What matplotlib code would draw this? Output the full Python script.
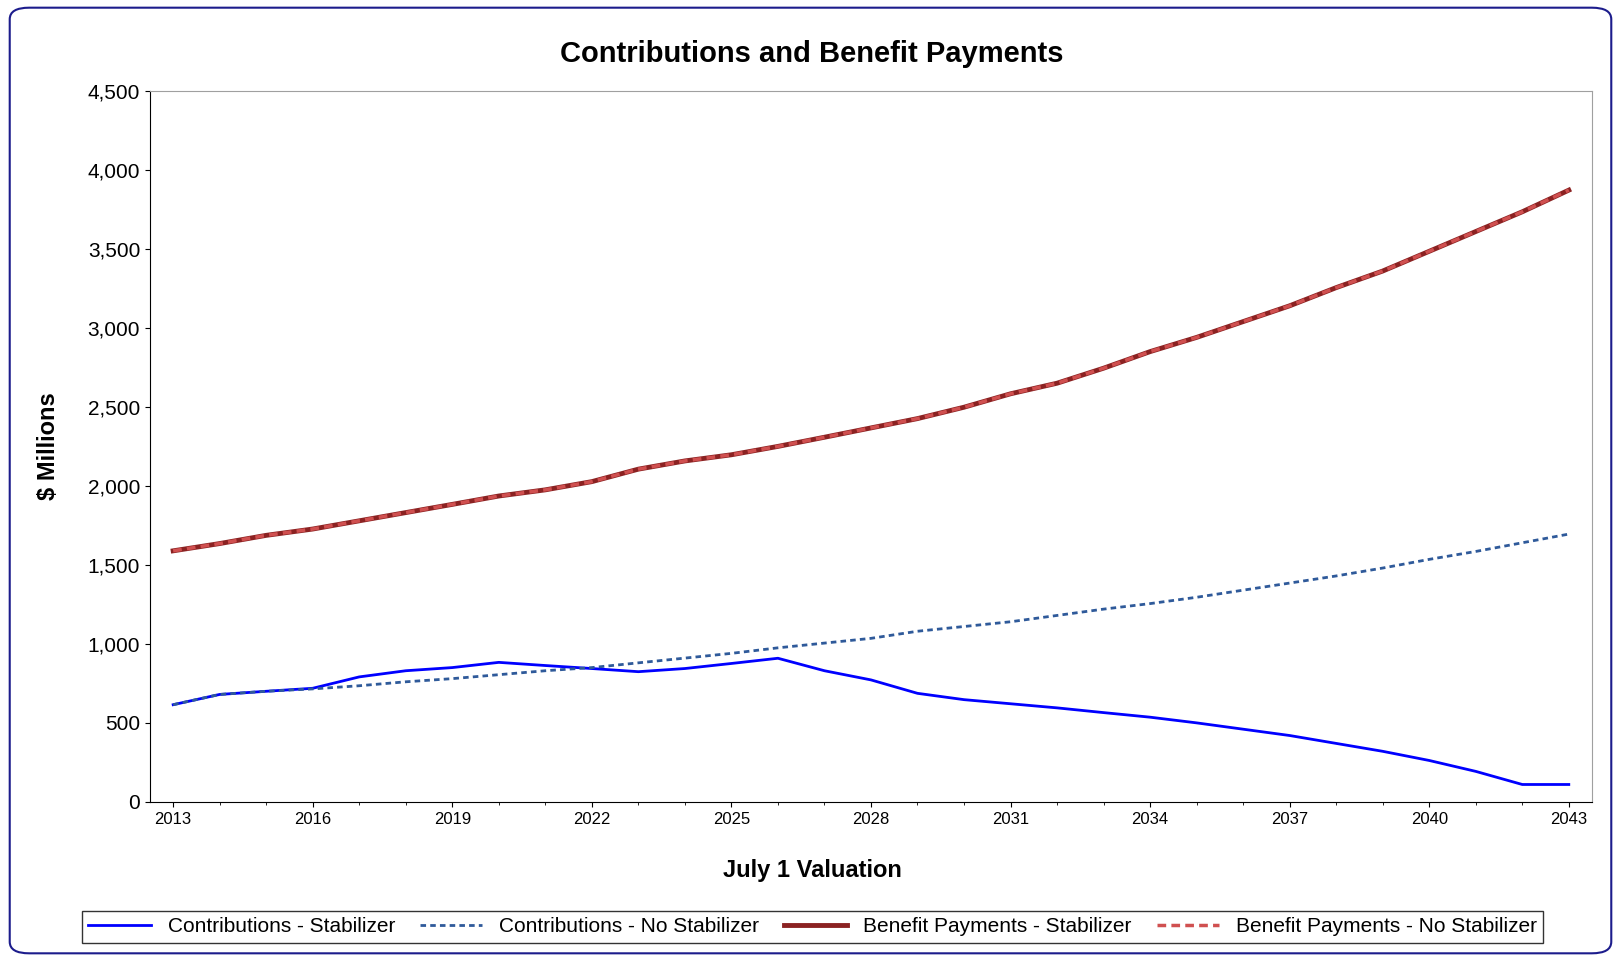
import matplotlib
matplotlib.use("Agg")
import matplotlib.pyplot as plt
from matplotlib.patches import FancyBboxPatch

plt.rcParams['font.family'] = ['Liberation Sans', 'DejaVu Sans']

years = list(range(2013, 2044))
contrib_stab = [615, 680, 700, 719, 791, 830, 850, 883, 863, 844, 824, 844, 876, 909, 830, 772, 687, 647, 621, 595, 565, 536, 500, 460, 420, 370, 320, 262, 193, 110, 110]
contrib_nostab = [615, 680, 700, 715, 735, 760, 780, 805, 830, 850, 880, 910, 940, 975, 1005, 1035, 1080, 1110, 1140, 1180, 1220, 1255, 1295, 1340, 1385, 1430, 1480, 1535, 1585, 1640, 1695]
benefit = [1589, 1635, 1687, 1727, 1779, 1831, 1883, 1936, 1975, 2027, 2106, 2158, 2197, 2250, 2308, 2367, 2426, 2498, 2583, 2650, 2745, 2850, 2940, 3040, 3140, 3255, 3360, 3485, 3610, 3735, 3872]

W, H = 1568, 930
fig = plt.figure(figsize=(16.21, 9.61), dpi=100)
fig.patches.append(FancyBboxPatch((0.006, 0.008), 0.988, 0.984, boxstyle="round,pad=0,rounding_size=0.012",
                                  transform=fig.transFigure, fill=False, edgecolor="#1c1c8c", lw=1.5))
ax = fig.add_axes([145/W, 1-776/H, (1540-145)/W, (776-88)/H])
ax.plot(years, contrib_stab, color="#0000ff", lw=2, label="Contributions - Stabilizer")
ax.plot(years, contrib_nostab, color="#2f5a9a", lw=2, ls=(0, (2, 1.5)), label="Contributions - No Stabilizer")
ax.plot(years, benefit, color="#8b2222", lw=3.5, label="Benefit Payments - Stabilizer")
ax.plot(years, benefit, color="#d05050", lw=2.5, ls=(0, (2.5, 1.5)), label="Benefit Payments - No Stabilizer")
ax.set_xlim(2012.5, 2043.5)
ax.set_ylim(0, 4500)
ax.set_xticks(range(2013, 2044, 3))
ax.set_xticks(range(2013, 2044), minor=True)
ax.set_yticks(range(0, 4501, 500))
ax.set_yticklabels([f"{v:,}" for v in range(0, 4501, 500)], fontsize=15)
ax.tick_params(axis='x', labelsize=12, direction='out')
ax.tick_params(axis='y', direction='out')
for s in ["top", "right"]:
    ax.spines[s].set_color("#a0a0a0")
fig.text(785/W, 1-52/H, "Contributions and Benefit Payments", fontsize=21, fontweight="bold", ha="center", va="center")
fig.text(786/W, 1-842/H, "July 1 Valuation", fontsize=17, fontweight="bold", ha="center", va="center")
ax.set_ylabel("$ Millions", fontsize=17, fontweight="bold", labelpad=20)
leg = fig.legend(loc="center", bbox_to_anchor=(786/W, 1-897/H), ncol=4, fontsize=15,
                 frameon=True, fancybox=False, edgecolor="black", handlelength=3, columnspacing=1.2,
                 borderpad=0.3)
leg.get_frame().set_linewidth(1.0)
fig.savefig("out.png", dpi=100)
